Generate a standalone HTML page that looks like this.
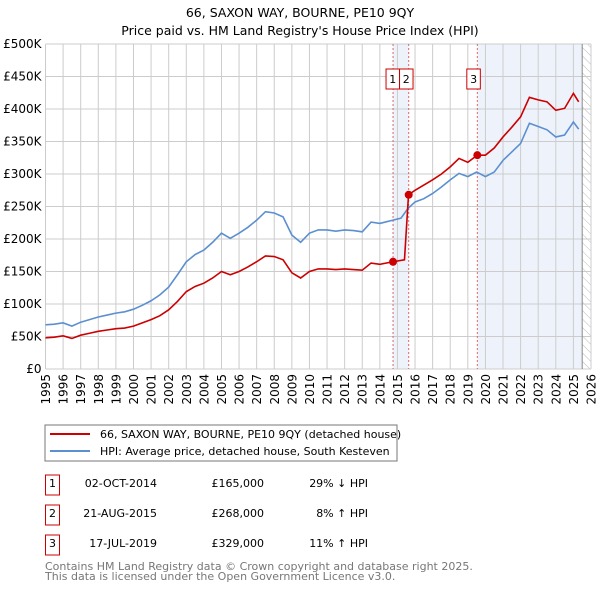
<!DOCTYPE html>
<html><head><meta charset="utf-8"><style>
body{margin:0;background:#fff;font-family:"DejaVu Sans","Liberation Sans",sans-serif;}
svg text{font-family:"DejaVu Sans","Liberation Sans",sans-serif;}
</style></head><body>
<svg id="chart" width="600" height="590" xmlns="http://www.w3.org/2000/svg">
<defs><pattern id="hatch" width="6" height="6" patternUnits="userSpaceOnUse" patternTransform="rotate(-45)"><line x1="0" y1="0" x2="0" y2="6" stroke="#bbb" stroke-width="1"/></pattern></defs>
<text x="300" y="17" text-anchor="middle" font-size="12.5">66, SAXON WAY, BOURNE, PE10 9QY</text>
<text x="300" y="35" text-anchor="middle" font-size="12.5">Price paid vs. HM Land Registry's House Price Index (HPI)</text>
<g id="plot"></g>
<g>
<rect x="45" y="425" width="352" height="36" fill="#fff" stroke="#777"/>
<line x1="50" y1="434" x2="90" y2="434" stroke="#cc0000" stroke-width="2"/>
<text x="100" y="438" font-size="11">66, SAXON WAY, BOURNE, PE10 9QY (detached house)</text>
<line x1="50" y1="451" x2="90" y2="451" stroke="#5b8fd0" stroke-width="2"/>
<text x="100" y="455" font-size="11">HPI: Average price, detached house, South Kesteven</text>
</g>
<g id="table" font-size="11"></g>
<text x="45" y="570" font-size="11" fill="#777">Contains HM Land Registry data © Crown copyright and database right 2025.</text>
<text x="45" y="580" font-size="11" fill="#777">This data is licensed under the Open Government Licence v3.0.</text>
</svg>
<script>
const hpiYears=[1995,1995.5,1996,1996.5,1997,1997.5,1998,1998.5,1999,1999.5,2000,2000.5,2001,2001.5,2002,2002.5,2003,2003.5,2004,2004.5,2005,2005.5,2006,2006.5,2007,2007.5,2008,2008.5,2009,2009.5,2010,2010.5,2011,2011.5,2012,2012.5,2013,2013.5,2014,2014.75,2015.2,2015.6,2016,2016.5,2017,2017.5,2018,2018.5,2019,2019.5,2020,2020.5,2021,2021.5,2022,2022.5,2023,2023.5,2024,2024.5,2025,2025.3];
const hpiValues=[68,69,71,66,72,76,80,83,86,88,92,98,105,114,126,145,165,176,183,195,209,201,209,218,229,242,240,234,206,195,209,214,214,212,214,213,211,226,224,229,232,247,257,262,270,280,291,301,296,303,296,303,321,334,347,378,373,368,357,360,380,369];
const priceYears=[1995,1995.5,1996,1996.5,1997,1997.5,1998,1998.5,1999,1999.5,2000,2000.5,2001,2001.5,2002,2002.5,2003,2003.5,2004,2004.5,2005,2005.5,2006,2006.5,2007,2007.5,2008,2008.5,2009,2009.5,2010,2010.5,2011,2011.5,2012,2012.5,2013,2013.5,2014,2014.75,2015.4,2015.63,2016,2016.5,2017,2017.5,2018,2018.5,2019,2019.54,2020,2020.5,2021,2021.5,2022,2022.5,2023,2023.5,2024,2024.5,2025,2025.3];
const priceValues=[48,49,51,47,52,55,58,60,62,63,66,71,76,82,91,104,119,127,132,140,150,145,150,157,165,174,173,168,148,140,150,154,154,153,154,153,152,163,161,165,168,268,275,283,291,300,311,324,318,329,329,340,357,372,388,418,414,411,398,401,424,411];
const yTicks=[0,50,100,150,200,250,300,350,400,450,500];
const yTickLabels=["£0","£50K","£100K","£150K","£200K","£250K","£300K","£350K","£400K","£450K","£500K"];
const xTicks=[1995,1996,1997,1998,1999,2000,2001,2002,2003,2004,2005,2006,2007,2008,2009,2010,2011,2012,2013,2014,2015,2016,2017,2018,2019,2020,2021,2022,2023,2024,2025,2026];
const saleLabels=["1","2","3"];
const saleYears=[2014.75,2015.64,2019.54];
const saleValues=[165,268,329];
const saleDates=["02-OCT-2014","21-AUG-2015","17-JUL-2019"];
const salePrices=["£165,000","£268,000","£329,000"];
const saleHpi=["29% ↓ HPI","8% ↑ HPI","11% ↑ HPI"];

const X0=45.5,X1=591,Y0=369,Y1=44;
const xs=y=>X0+(y-1995)/(2026-1995)*(X1-X0);
const ys=v=>Y0-v/500*(Y0-Y1);
const NS="http://www.w3.org/2000/svg";
const plot=document.getElementById('plot');
function mk(tag,attrs,parent){const e=document.createElementNS(NS,tag);for(const k in attrs)e.setAttribute(k,attrs[k]);(parent||plot).appendChild(e);return e;}

let r;
r=mk('rect',{x:xs(saleYears[0]),y:Y1,width:xs(saleYears[1])-xs(saleYears[0]),height:Y0-Y1,fill:'#eef3fb'});


r=mk('rect',{x:xs(saleYears[2]),y:Y1,width:xs(2025.5)-xs(saleYears[2]),height:Y0-Y1,fill:'#eef3fb'});


r=mk('rect',{x:xs(2025.5),y:Y1,width:X1-xs(2025.5),height:Y0-Y1,fill:'url(#hatch)'});



yTicks.forEach((v,i)=>{
  const l=mk('line',{x1:X0,x2:X1,y1:ys(v),y2:ys(v),stroke:'#ccc'});
  
  
  const t=mk('text',{x:X0-4,y:ys(v)+4,'text-anchor':'end','font-size':12});
  t.textContent=yTickLabels[i];
  
  
});
xTicks.forEach(y=>{
  const l=mk('line',{x1:xs(y),x2:xs(y),y1:Y1,y2:Y0,stroke:'#ccc'});
  
  
  const tx=xs(y)+4.5,ty=Y0+5;
  const t=mk('text',{x:tx,y:ty,'text-anchor':'end','font-size':12,transform:'rotate(-90 '+tx+' '+ty+')'});
  t.textContent=y;
  
  
});
r=mk('line',{x1:xs(2025.5),x2:xs(2025.5),y1:Y1,y2:Y0,stroke:'#888'});



saleYears.forEach((y,i)=>{
  const l=mk('line',{x1:xs(y),x2:xs(y),y1:Y1,y2:Y0,stroke:'#e06666','stroke-dasharray':'2,2'});
  
  
});

let p=mk('polyline',{points:hpiYears.map((y,i)=>xs(y)+','+ys(hpiValues[i])).join(' '),fill:'none',stroke:'#5b8fd0','stroke-width':1.6});


p=mk('polyline',{points:priceYears.map((y,i)=>xs(y)+','+ys(priceValues[i])).join(' '),fill:'none',stroke:'#cc0000','stroke-width':1.6});



const boxOff=[-7,6.5,-10.5];
saleYears.forEach((y,i)=>{
  const c=mk('circle',{cx:xs(y),cy:ys(saleValues[i]),r:4,fill:'#cc0000'});
  
  
  const bx=(i==1?xs(saleYears[0]):xs(y))+boxOff[i];
  const b=mk('rect',{x:bx,y:69,width:13.5,height:20,fill:'#fff',stroke:'#cc0000'});
  
  
  const t=mk('text',{x:bx+6.75,y:83,'text-anchor':'middle','font-size':11});
  t.textContent=saleLabels[i];
  
  
});

const tbl=document.getElementById('table');
const rowY=[487,517,547];
saleLabels.forEach((s,i)=>{
  const b=mk('rect',{x:45.5,y:rowY[i]-12,width:14,height:20,fill:'none',stroke:'#cc0000'},tbl);
  
  
  const cells=[[52.5,s,'middle'],[157,saleDates[i],'end'],[264,salePrices[i],'end'],[368,saleHpi[i],'end']];
  cells.forEach(c=>{
    const t=mk('text',{x:c[0],y:rowY[i],'text-anchor':c[2]},tbl);
    t.textContent=c[1];
    
    
  });
});
</script>
</body></html>
